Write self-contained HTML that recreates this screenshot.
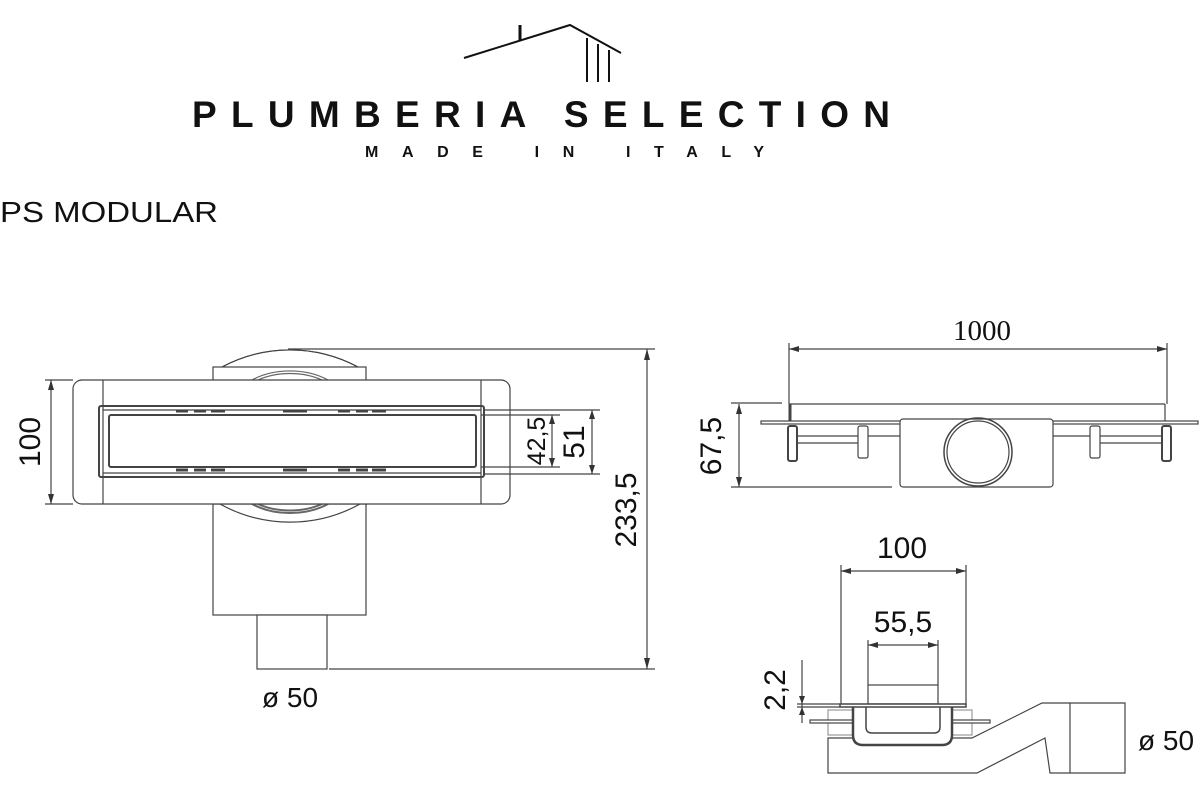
<!DOCTYPE html>
<html><head><meta charset="utf-8"><style>
html,body{margin:0;padding:0;background:#fff;width:1200px;height:800px;overflow:hidden}
svg{display:block}
</style></head><body>
<svg width="1200" height="800" viewBox="0 0 1200 800" xmlns="http://www.w3.org/2000/svg" font-family="Liberation Sans, sans-serif">
<!-- Logo -->
<g stroke="#111" stroke-width="2" fill="none">
<polyline points="464,58 570,25 621,53"/>
<line x1="520" y1="25" x2="520" y2="41" stroke-width="3"/>
<line x1="587" y1="38" x2="587" y2="82"/>
<line x1="598" y1="44" x2="598" y2="82"/>
<line x1="609" y1="50" x2="609" y2="82"/>
</g>
<text x="192" y="127" font-size="37" font-weight="bold" fill="#111" textLength="698" lengthAdjust="spacing">PLUMBERIA SELECTION</text>
<text x="365" y="157" font-size="16" font-weight="bold" fill="#111" textLength="399" lengthAdjust="spacing">MADE IN ITALY</text>
<text x="0" y="222" font-size="29" fill="#111" textLength="218" lengthAdjust="spacingAndGlyphs">PS MODULAR</text>

<g stroke="#444" stroke-width="1.2" fill="none">
<!-- Top view -->
<path d="M222 367 A144 144 0 0 1 358 367" fill="#fff"/>
<path d="M213 504 A144 144 0 0 0 367 504" fill="#fff"/>
<rect x="213" y="367" width="153" height="14" fill="#fff"/>
<rect x="213" y="504" width="153" height="111" fill="#fff"/>
<path d="M222 367 A144 144 0 0 1 358 367" fill="none"/>
<path d="M220 504 A144 144 0 0 0 360 504" fill="none"/>
<path d="M252 380 A60 40 0 0 1 328 380 M258 380 A55 35 0 0 1 322 380" stroke="#666"/>
<path d="M252 504 A60 40 0 0 0 328 504 M258 504 A55 35 0 0 0 322 504" stroke="#666" stroke-width="2"/>
<rect x="257" y="615" width="70" height="54" fill="#fff"/>
<rect x="73" y="380" width="437" height="124" rx="9" fill="#fff"/>
<line x1="103" y1="380" x2="103" y2="504"/>
<line x1="481" y1="380" x2="481" y2="504"/>
<rect x="99" y="406" width="385" height="71" rx="2" stroke-width="2"/>
<line x1="103" y1="410" x2="481" y2="410"/>
<line x1="103" y1="473" x2="481" y2="473"/>
<rect x="109" y="415" width="367" height="52" rx="2" stroke-width="2"/>
<path d="M176 411h12M194 411h12M211 411h14M283 411h24M338 411h12M356 411h12M372 411h14M176 470h12M194 470h12M211 470h14M283 470h24M338 470h12M356 470h12M372 470h14" stroke-width="3"/>
<!-- dims -->
<line x1="51" y1="380" x2="51" y2="504"/>
<line x1="45" y1="380" x2="73" y2="380"/>
<line x1="45" y1="504" x2="73" y2="504"/>
<line x1="481" y1="415" x2="560" y2="415"/>
<line x1="481" y1="467" x2="560" y2="467"/>
<line x1="552" y1="415" x2="552" y2="467"/>
<line x1="484" y1="410" x2="600" y2="410"/>
<line x1="484" y1="474" x2="600" y2="474"/>
<line x1="592" y1="410" x2="592" y2="474"/>
<line x1="288" y1="349" x2="655" y2="349"/>
<line x1="329" y1="669" x2="655" y2="669"/>
<line x1="647" y1="349" x2="647" y2="669"/>
</g>
<g fill="#333">
<path d="M51 380l-3 10h6z M51 504l-3-10h6z M552 415l-3 9h6z M552 467l-3-9h6z M592 410l-3 9h6z M592 474l-3-9h6z M647 349l-3 11h6z M647 669l-3-11h6z"/>
</g>
<g font-size="30" fill="#111">
<text transform="translate(40,442) rotate(-90)" text-anchor="middle">100</text>
<text transform="translate(545,441) rotate(-90)" text-anchor="middle" font-size="25">42,5</text>
<text transform="translate(584,442) rotate(-90)" text-anchor="middle">51</text>
<text transform="translate(636,510) rotate(-90)" text-anchor="middle">233,5</text>
<text x="290" y="707" text-anchor="middle" font-size="28">ø 50</text>
</g>

<!-- Side view -->
<g stroke="#444" stroke-width="1.2" fill="none">
<line x1="789" y1="349" x2="1167" y2="349"/>
<line x1="789" y1="343" x2="789" y2="404"/>
<line x1="1167" y1="343" x2="1167" y2="404"/>
<line x1="789" y1="404" x2="1165" y2="404"/>
<line x1="1165" y1="404" x2="1165" y2="421"/>
<line x1="790" y1="404" x2="790" y2="421" stroke-width="3"/>
<rect x="761" y="421" width="437" height="3"/>
<rect x="788" y="426" width="9" height="35" rx="2" stroke-width="2"/>
<rect x="858" y="426" width="10" height="32" rx="2"/>
<rect x="1090" y="426" width="10" height="32" rx="2"/>
<rect x="1162" y="426" width="9" height="35" rx="2" stroke-width="2"/>
<line x1="797" y1="436" x2="858" y2="436"/><line x1="797" y1="443" x2="858" y2="443"/>
<line x1="1100" y1="436" x2="1162" y2="436"/><line x1="1100" y1="443" x2="1162" y2="443"/>
<line x1="868" y1="436" x2="900" y2="436"/><line x1="1053" y1="436" x2="1090" y2="436"/>
<rect x="900" y="419" width="153" height="68" rx="3" fill="#fff"/>
<circle cx="978" cy="452" r="34" stroke-width="1.5"/>
<circle cx="978" cy="452" r="31"/>
<line x1="739" y1="404" x2="739" y2="487"/>
<line x1="731" y1="403" x2="782" y2="403"/>
<line x1="731" y1="487" x2="892" y2="487"/>
</g>
<g fill="#333"><path d="M789 349l10-3v6z M1167 349l-10-3v6z M739 404l-3 10h6z M739 487l-3-10h6z"/></g>
<text x="982" y="340" text-anchor="middle" font-family="Liberation Serif, serif" font-size="29" fill="#111">1000</text>
<text transform="translate(721,446) rotate(-90)" text-anchor="middle" font-size="30" fill="#111">67,5</text>

<!-- Section view -->
<g stroke="#444" stroke-width="1.2" fill="none">
<line x1="841" y1="571" x2="966" y2="571"/>
<line x1="841" y1="565" x2="841" y2="704"/>
<line x1="966" y1="565" x2="966" y2="704"/>
<line x1="868" y1="645" x2="938" y2="645"/>
<line x1="868" y1="640" x2="868" y2="685"/>
<line x1="938" y1="640" x2="938" y2="685"/>
<rect x="868" y="685" width="70" height="19"/>
<rect x="828" y="710" width="144" height="25" stroke="#999"/>
<rect x="810" y="720" width="180" height="3" fill="#fff"/>
<path d="M828 738 H972 L1042 703 H1125 V773 H1050 L1045 738 L977 773 H828 Z" fill="#fff"/>
<line x1="1070" y1="703" x2="1070" y2="773"/>
<path d="M853 707 V735 Q853 745 863 745 H942 Q952 745 952 735 V707" fill="#fff" stroke-width="2.5"/>
<path d="M866 707 V727 Q866 733 872 733 H934 Q940 733 940 727 V707" stroke-width="1.5"/>
<rect x="840" y="704" width="126" height="3" fill="#fff" stroke-width="1.5"/>
<line x1="802" y1="660" x2="802" y2="723"/>
<line x1="797" y1="704" x2="840" y2="704"/>
<line x1="797" y1="707" x2="840" y2="707"/>
</g>
<g fill="#333"><path d="M841 571l10-3v6z M966 571l-10-3v6z M868 645l10-3v6z M938 645l-10-3v6z M802 704l-3-8h6z M802 707l-3 8h6z"/></g>
<g font-size="30" fill="#111">
<text x="902" y="558" text-anchor="middle">100</text>
<text x="903" y="632" text-anchor="middle">55,5</text>
<text transform="translate(785,690) rotate(-90)" text-anchor="middle">2,2</text>
<text x="1166" y="750" text-anchor="middle" font-size="28">ø 50</text>
</g>
</svg>
</body></html>
